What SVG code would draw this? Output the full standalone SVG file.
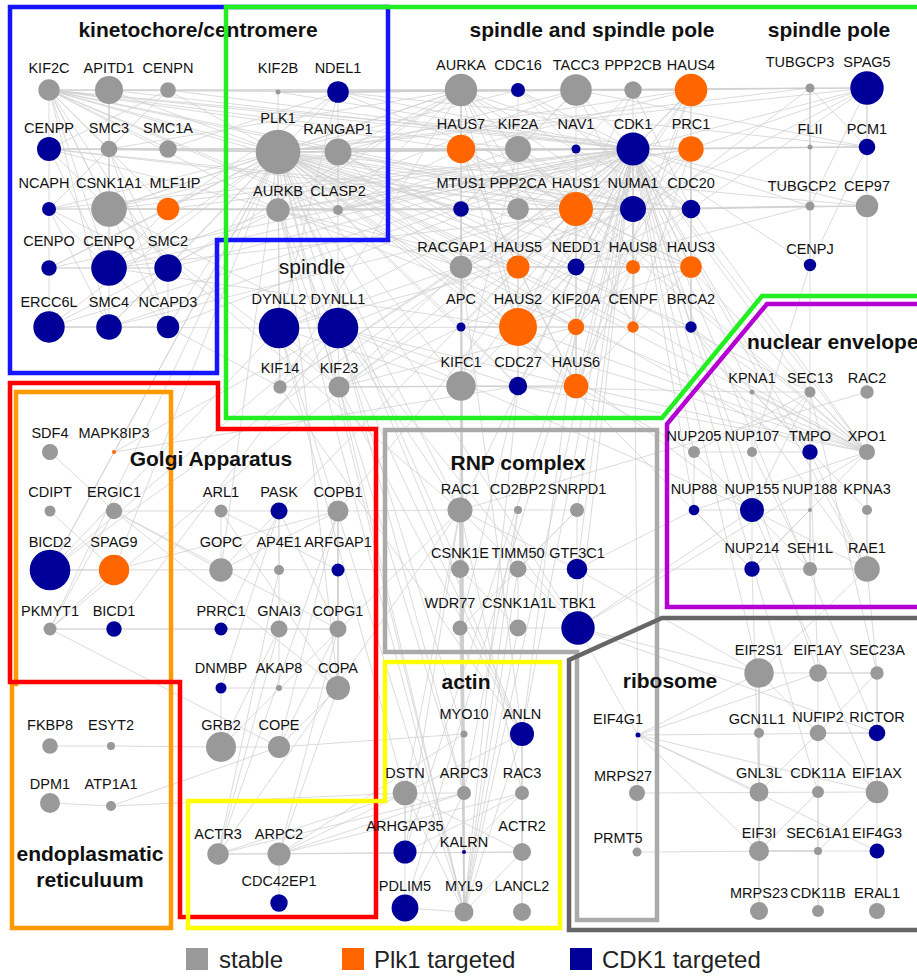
<svg xmlns="http://www.w3.org/2000/svg" width="917" height="978" viewBox="0 0 917 978">
<style>
.e path{stroke:#cfcfcf;stroke-width:0.75;fill:none}
.g{fill:#999999}.o{fill:#ff6600}.b{fill:#000099}
text{font-family:"Liberation Sans",Arial,sans-serif;fill:#111}
.n text{font-size:14.5px;text-anchor:middle}
.ti{font-size:21px;font-weight:bold;text-anchor:middle}
.bx{fill:none;stroke-width:4.5;stroke-linejoin:miter}
.lg{font-size:24px;fill:#222}
</style>
<rect width="917" height="978" fill="#fff"/>
<g class="e" id="connectors">
<path d="M49 90L109 90"/><path d="M109 90L168 90"/><path d="M49 90L109 149"/><path d="M49 90L168 149"/><path d="M49 90L109 209"/><path d="M49 90L168 209"/><path d="M49 90L278 152"/><path d="M49 90L338 92"/><path d="M49 90L338 152"/><path d="M49 90L278 210"/><path d="M49 90L338 210"/><path d="M49 90L461 90"/><path d="M49 90L461 149"/><path d="M49 90L518 149"/><path d="M49 90L633 149"/><path d="M49 90L461 209"/><path d="M49 90L633 209"/><path d="M49 90L49 149"/><path d="M49 90L168 268"/><path d="M49 90L168 327"/><path d="M49 90L691 149"/><path d="M49 90L461 267"/><path d="M49 90L109 268"/><path d="M49 90L109 327"/>
<path d="M49 149L109 149"/><path d="M49 149L168 149"/><path d="M49 149L278 152"/><path d="M49 149L633 149"/><path d="M49 149L278 210"/><path d="M49 149L633 209"/><path d="M49 149L576 209"/><path d="M49 149L109 209"/><path d="M49 149L109 268"/><path d="M49 149L49 209"/>
<path d="M109 149L168 149"/><path d="M109 149L278 152"/><path d="M109 149L633 149"/><path d="M109 149L168 268"/><path d="M109 149L109 327"/><path d="M109 149L168 327"/><path d="M109 149L461 90"/><path d="M109 149L338 152"/>
<path d="M168 149L278 152"/><path d="M168 149L633 149"/><path d="M168 149L338 92"/><path d="M168 149L461 149"/>
<path d="M49 209L109 209"/><path d="M49 209L168 268"/><path d="M49 209L109 327"/><path d="M49 209L168 327"/><path d="M49 209L633 149"/><path d="M49 209L278 152"/><path d="M49 209L278 210"/><path d="M49 209L49 268"/>
<path d="M109 209L278 152"/><path d="M109 209L633 149"/><path d="M109 209L338 152"/><path d="M109 209L461 90"/><path d="M109 209L461 209"/><path d="M109 209L691 209"/><path d="M109 209L339 387"/><path d="M109 209L338 328"/><path d="M109 209L576 209"/><path d="M109 209L460 510"/>
<path d="M168 209L278 152"/><path d="M168 209L109 268"/><path d="M168 209L49 268"/><path d="M168 209L278 210"/><path d="M168 209L338 92"/><path d="M168 209L633 149"/>
<path d="M49 268L109 268"/><path d="M49 268L168 268"/><path d="M49 268L278 152"/><path d="M49 268L633 149"/><path d="M49 268L49 327"/>
<path d="M109 268L278 152"/><path d="M109 268L278 210"/><path d="M109 268L168 268"/><path d="M109 268L633 149"/><path d="M109 268L518 327"/><path d="M109 268L633 209"/>
<path d="M168 268L109 327"/><path d="M168 268L168 327"/><path d="M168 268L278 152"/><path d="M168 268L633 149"/><path d="M168 268L461 90"/>
<path d="M49 327L109 327"/><path d="M49 327L278 152"/><path d="M49 327L633 149"/><path d="M49 327L278 210"/><path d="M49 327L168 327"/><path d="M49 327L279 328"/>
<path d="M109 327L168 327"/><path d="M109 327L633 149"/><path d="M109 327L278 152"/><path d="M109 327L576 209"/>
<path d="M168 327L278 152"/><path d="M168 327L633 149"/><path d="M168 327L280 387"/>
<path d="M109 90L278 152"/><path d="M109 90L633 149"/><path d="M109 90L109 149"/><path d="M109 90L109 209"/><path d="M109 90L109 268"/><path d="M109 90L576 90"/>
<path d="M168 90L278 152"/><path d="M168 90L633 149"/><path d="M168 90L49 149"/><path d="M168 90L49 209"/><path d="M168 90L691 90"/>
<path d="M278 92L338 92"/><path d="M278 92L278 152"/><path d="M278 92L461 90"/><path d="M278 92L633 149"/><path d="M278 92L576 90"/>
<path d="M338 92L461 90"/><path d="M338 92L518 90"/><path d="M338 92L576 90"/><path d="M338 92L633 90"/><path d="M338 92L633 149"/><path d="M338 92L278 152"/><path d="M338 92L633 209"/><path d="M338 92L338 328"/><path d="M338 92L279 328"/><path d="M338 92L691 90"/><path d="M338 92L867 88"/><path d="M338 92L867 147"/>
<path d="M278 152L338 152"/><path d="M278 152L278 210"/><path d="M278 152L461 90"/><path d="M278 152L691 90"/><path d="M278 152L461 149"/><path d="M278 152L518 149"/><path d="M278 152L576 149"/><path d="M278 152L633 149"/><path d="M278 152L691 149"/><path d="M278 152L461 209"/><path d="M278 152L518 209"/><path d="M278 152L576 209"/><path d="M278 152L633 209"/><path d="M278 152L691 209"/><path d="M278 152L461 267"/><path d="M278 152L518 267"/><path d="M278 152L576 267"/><path d="M278 152L633 267"/><path d="M278 152L691 267"/><path d="M278 152L518 327"/><path d="M278 152L576 327"/><path d="M278 152L633 327"/><path d="M278 152L461 327"/><path d="M278 152L691 327"/><path d="M278 152L461 386"/><path d="M278 152L518 386"/><path d="M278 152L576 386"/><path d="M278 152L339 387"/><path d="M278 152L280 387"/><path d="M278 152L338 328"/><path d="M278 152L279 328"/><path d="M278 152L810 88"/><path d="M278 152L867 88"/><path d="M278 152L867 147"/><path d="M278 152L867 206"/><path d="M278 152L114 452"/><path d="M278 152L114 570"/><path d="M278 152L50 570"/><path d="M278 152L50 629"/><path d="M278 152L338 688"/><path d="M278 152L221 570"/><path d="M278 152L460 510"/><path d="M278 152L578 628"/><path d="M278 152L752 510"/><path d="M278 152L460 569"/><path d="M278 152L522 734"/><path d="M278 152L464 912"/><path d="M278 152L810 452"/><path d="M278 152L867 452"/><path d="M278 152L518 90"/>
<path d="M338 152L461 90"/><path d="M338 152L633 149"/><path d="M338 152L338 210"/><path d="M338 152L633 209"/><path d="M338 152L867 452"/><path d="M338 152L752 569"/><path d="M338 152L810 392"/><path d="M338 152L576 209"/><path d="M338 152L576 90"/>
<path d="M278 210L338 210"/><path d="M278 210L461 90"/><path d="M278 210L633 149"/><path d="M278 210L691 149"/><path d="M278 210L339 387"/><path d="M278 210L576 327"/><path d="M278 210L461 267"/><path d="M278 210L518 267"/><path d="M278 210L633 209"/><path d="M278 210L691 209"/><path d="M278 210L522 734"/><path d="M278 210L464 912"/><path d="M278 210L576 90"/>
<path d="M338 210L461 90"/><path d="M338 210L633 149"/><path d="M338 210L691 149"/><path d="M338 210L461 149"/><path d="M338 210L518 149"/><path d="M338 210L461 209"/>
<path d="M279 328L338 328"/><path d="M279 328L280 387"/><path d="M279 328L339 387"/><path d="M279 328L633 209"/><path d="M279 328L50 570"/><path d="M279 328L518 327"/><path d="M279 328L633 149"/><path d="M279 328L461 386"/><path d="M279 328L518 267"/><path d="M279 328L405 793"/><path d="M279 328L464 912"/>
<path d="M338 328L339 387"/><path d="M338 328L633 209"/><path d="M338 328L50 570"/><path d="M338 328L114 629"/><path d="M338 328L518 386"/><path d="M338 328L576 386"/><path d="M338 328L578 628"/><path d="M338 328L752 510"/><path d="M338 328L460 510"/><path d="M338 328L464 734"/><path d="M338 328L464 793"/>
<path d="M280 387L339 387"/><path d="M280 387L461 267"/><path d="M280 387L522 734"/><path d="M280 387L633 149"/><path d="M280 387L461 90"/>
<path d="M339 387L461 267"/><path d="M339 387L691 149"/><path d="M339 387L576 327"/><path d="M339 387L522 734"/><path d="M339 387L464 912"/><path d="M339 387L464 793"/><path d="M339 387L518 386"/><path d="M339 387L576 386"/><path d="M339 387L461 327"/><path d="M339 387L461 386"/>
<path d="M461 90L576 90"/><path d="M461 90L461 149"/><path d="M461 90L518 149"/><path d="M461 90L633 149"/><path d="M461 90L633 209"/><path d="M461 90L576 209"/><path d="M461 90L461 267"/><path d="M461 90L461 386"/><path d="M461 90L518 209"/><path d="M461 90L518 327"/><path d="M461 90L691 209"/><path d="M461 90L576 267"/><path d="M461 90L810 88"/><path d="M461 90L691 90"/>
<path d="M518 90L691 209"/><path d="M518 90L518 386"/><path d="M518 90L633 149"/><path d="M518 90L633 209"/>
<path d="M576 90L633 149"/><path d="M576 90L576 209"/><path d="M576 90L518 149"/><path d="M576 90L867 88"/><path d="M576 90L867 147"/><path d="M576 90L633 209"/><path d="M576 90L461 209"/>
<path d="M633 90L518 209"/><path d="M633 90L633 149"/><path d="M633 90L576 209"/><path d="M633 90L691 209"/>
<path d="M691 90L461 149"/><path d="M691 90L576 209"/><path d="M691 90L518 267"/><path d="M691 90L633 267"/><path d="M691 90L691 267"/><path d="M691 90L518 327"/><path d="M691 90L576 386"/><path d="M691 90L576 267"/><path d="M691 90L810 88"/><path d="M691 90L633 149"/><path d="M691 90L691 149"/>
<path d="M461 149L576 209"/><path d="M461 149L518 327"/><path d="M461 149L518 267"/><path d="M461 149L576 386"/><path d="M461 149L691 267"/><path d="M461 149L633 267"/><path d="M461 149L576 267"/>
<path d="M518 149L633 149"/><path d="M518 149L633 209"/><path d="M518 149L576 209"/><path d="M518 149L461 209"/><path d="M518 149L461 386"/><path d="M518 149L867 452"/>
<path d="M576 149L633 149"/><path d="M576 149L576 209"/>
<path d="M633 149L691 149"/><path d="M633 149L633 209"/><path d="M633 149L691 209"/><path d="M633 149L576 209"/><path d="M633 149L461 267"/><path d="M633 149L518 267"/><path d="M633 149L576 267"/><path d="M633 149L633 267"/><path d="M633 149L691 267"/><path d="M633 149L461 327"/><path d="M633 149L518 327"/><path d="M633 149L576 327"/><path d="M633 149L633 327"/><path d="M633 149L691 327"/><path d="M633 149L461 386"/><path d="M633 149L518 386"/><path d="M633 149L576 386"/><path d="M633 149L867 88"/><path d="M633 149L867 147"/><path d="M633 149L867 206"/><path d="M633 149L810 265"/><path d="M633 149L810 206"/><path d="M633 149L810 147"/><path d="M633 149L810 452"/><path d="M633 149L752 510"/><path d="M633 149L694 510"/><path d="M633 149L867 452"/><path d="M633 149L867 569"/><path d="M633 149L752 392"/><path d="M633 149L810 392"/><path d="M633 149L694 452"/><path d="M633 149L577 569"/><path d="M633 149L578 628"/><path d="M633 149L460 510"/><path d="M633 149L577 510"/><path d="M633 149L464 912"/><path d="M633 149L522 734"/><path d="M633 149L405 908"/><path d="M633 149L405 852"/><path d="M633 149L338 511"/><path d="M633 149L759 673"/><path d="M633 149L818 673"/><path d="M633 149L877 733"/><path d="M633 149L638 735"/><path d="M633 149L818 792"/>
<path d="M691 149L633 209"/><path d="M691 149L691 209"/><path d="M691 149L576 327"/><path d="M691 149L461 267"/><path d="M691 149L691 267"/><path d="M691 149L633 327"/><path d="M691 149L867 88"/><path d="M691 149L691 327"/><path d="M691 149L867 147"/>
<path d="M461 209L576 209"/><path d="M461 209L518 209"/><path d="M461 209L461 267"/>
<path d="M518 209L576 209"/><path d="M518 209L633 209"/><path d="M518 209L518 267"/>
<path d="M576 209L633 209"/><path d="M576 209L518 267"/><path d="M576 209L518 327"/><path d="M576 209L633 267"/><path d="M576 209L691 267"/><path d="M576 209L576 267"/><path d="M576 209L576 386"/><path d="M576 209L576 327"/><path d="M576 209L633 327"/>
<path d="M633 209L691 209"/><path d="M633 209L867 88"/><path d="M633 209L867 206"/><path d="M633 209L633 267"/><path d="M633 209L633 327"/><path d="M633 209L461 386"/><path d="M633 209L810 206"/>
<path d="M691 209L518 386"/><path d="M691 209L691 327"/><path d="M691 209L867 88"/><path d="M691 209L867 206"/><path d="M691 209L810 206"/><path d="M691 209L461 327"/>
<path d="M461 267L518 267"/><path d="M461 267L576 327"/><path d="M461 267L461 327"/><path d="M461 267L522 734"/><path d="M461 267L464 912"/>
<path d="M518 267L576 267"/><path d="M518 267L518 327"/><path d="M518 267L576 386"/><path d="M518 267L633 267"/><path d="M518 267L691 267"/>
<path d="M576 267L633 267"/><path d="M576 267L518 327"/><path d="M576 267L691 267"/><path d="M576 267L810 88"/><path d="M576 267L810 206"/><path d="M576 267L576 386"/>
<path d="M633 267L691 267"/><path d="M633 267L518 327"/><path d="M633 267L633 327"/><path d="M633 267L576 386"/>
<path d="M691 267L518 327"/><path d="M691 267L576 386"/><path d="M691 267L691 327"/>
<path d="M461 327L518 327"/><path d="M461 327L461 386"/><path d="M461 327L518 386"/><path d="M461 327L691 327"/>
<path d="M518 327L576 386"/><path d="M518 327L576 327"/><path d="M518 327L518 386"/>
<path d="M576 327L633 327"/><path d="M576 327L576 386"/><path d="M576 327L522 734"/>
<path d="M633 327L691 327"/><path d="M691 327L867 452"/><path d="M691 327L867 569"/>
<path d="M461 386L518 386"/><path d="M461 386L460 510"/><path d="M518 386L576 386"/><path d="M518 386L460 628"/>
<path d="M810 88L867 88"/><path d="M810 88L810 147"/><path d="M810 88L810 206"/><path d="M810 88L810 265"/><path d="M810 88L867 147"/><path d="M867 88L867 147"/><path d="M867 88L867 206"/><path d="M867 88L810 206"/><path d="M810 147L810 206"/><path d="M810 147L867 147"/><path d="M810 206L867 206"/><path d="M810 206L810 265"/><path d="M810 265L867 147"/><path d="M810 265L752 452"/><path d="M867 206L867 392"/><path d="M810 265L810 392"/>
<path d="M867 452L518 327"/><path d="M867 452L576 327"/><path d="M867 452L518 386"/><path d="M867 452L576 386"/><path d="M867 452L461 327"/><path d="M867 452L576 209"/><path d="M867 452L633 209"/><path d="M867 452L691 209"/><path d="M694 452L576 386"/><path d="M752 392L461 386"/>
<path d="M752 392L810 392"/><path d="M752 392L752 452"/><path d="M810 392L752 452"/><path d="M810 392L752 510"/><path d="M810 392L810 569"/><path d="M810 392L694 452"/><path d="M810 392L867 452"/><path d="M867 392L867 452"/><path d="M752 392L867 452"/><path d="M694 452L752 452"/><path d="M694 452L752 510"/><path d="M694 452L694 510"/><path d="M752 452L752 510"/><path d="M752 452L810 569"/><path d="M752 452L810 452"/><path d="M810 452L810 510"/><path d="M810 452L867 569"/><path d="M867 452L867 510"/><path d="M867 452L867 569"/><path d="M867 452L752 569"/><path d="M867 452L694 510"/><path d="M694 510L752 510"/><path d="M694 510L752 569"/><path d="M752 510L810 510"/><path d="M752 510L752 569"/><path d="M752 510L810 569"/><path d="M752 510L867 569"/><path d="M810 510L810 569"/><path d="M810 510L752 569"/><path d="M867 510L867 569"/><path d="M867 510L752 392"/><path d="M752 569L810 569"/><path d="M752 569L867 569"/><path d="M810 569L867 569"/><path d="M867 392L460 510"/><path d="M810 452L691 327"/>
<path d="M460 510L518 510"/><path d="M460 510L460 569"/><path d="M460 510L578 628"/><path d="M460 510L577 569"/><path d="M460 510L460 628"/><path d="M518 510L577 510"/><path d="M577 510L460 628"/><path d="M577 510L577 569"/><path d="M577 510L518 569"/><path d="M460 569L518 628"/><path d="M460 569L518 569"/><path d="M518 569L518 628"/><path d="M577 569L578 628"/><path d="M460 628L518 628"/><path d="M518 628L578 628"/><path d="M578 628L759 673"/><path d="M578 628L877 733"/><path d="M577 569L694 510"/><path d="M460 510L464 793"/><path d="M460 510L522 793"/><path d="M460 510L464 734"/><path d="M460 510L405 793"/><path d="M460 510L221 747"/><path d="M460 510L338 511"/><path d="M460 510L464 852"/><path d="M460 510L405 852"/><path d="M578 628L752 510"/><path d="M578 628L867 452"/>
<path d="M114 511L221 511"/><path d="M221 511L279 511"/><path d="M279 511L338 511"/><path d="M114 452L50 570"/><path d="M114 452L518 386"/><path d="M114 452L338 328"/><path d="M50 629L114 570"/><path d="M50 629L114 511"/><path d="M50 629L633 149"/><path d="M50 629L338 629"/><path d="M50 629L279 629"/><path d="M50 629L279 747"/><path d="M50 570L114 570"/><path d="M50 570L633 149"/><path d="M50 570L752 569"/><path d="M114 570L338 511"/><path d="M114 511L338 629"/><path d="M114 511L338 688"/><path d="M114 511L221 570"/><path d="M50 452L114 511"/><path d="M50 511L114 570"/>
<path d="M221 511L221 570"/><path d="M279 511L221 570"/><path d="M279 511L279 570"/><path d="M279 511L221 629"/><path d="M279 511L279 629"/><path d="M279 511L338 629"/><path d="M279 511L221 688"/><path d="M279 511L633 149"/><path d="M338 511L338 629"/><path d="M338 511L338 688"/><path d="M338 511L279 747"/><path d="M338 511L338 570"/><path d="M338 511L221 570"/><path d="M338 570L338 629"/><path d="M338 570L338 688"/><path d="M338 570L221 511"/><path d="M338 629L338 688"/><path d="M338 629L279 747"/><path d="M338 629L279 629"/><path d="M338 688L279 747"/><path d="M338 688L221 511"/><path d="M338 688L221 688"/><path d="M279 629L221 747"/><path d="M279 629L279 688"/><path d="M221 747L279 747"/><path d="M221 747L221 688"/><path d="M111 746L221 747"/><path d="M50 746L111 746"/><path d="M50 803L111 806"/><path d="M111 806L405 793"/><path d="M111 806L279 747"/><path d="M279 747L464 734"/>
<path d="M218 854L279 854"/><path d="M279 854L522 852"/><path d="M218 854L464 793"/><path d="M218 854L522 852"/><path d="M218 854L405 793"/><path d="M218 854L460 510"/><path d="M218 854L279 570"/><path d="M218 854L338 511"/><path d="M218 854L279 629"/><path d="M279 854L464 793"/><path d="M279 854L405 793"/><path d="M279 854L522 793"/><path d="M279 854L464 734"/><path d="M279 854L338 688"/><path d="M279 854L338 629"/><path d="M279 854L279 903"/>
<path d="M464 734L464 912"/><path d="M464 734L464 793"/><path d="M464 793L464 852"/><path d="M464 793L464 912"/><path d="M522 734L522 793"/><path d="M522 734L464 912"/><path d="M522 734L522 852"/><path d="M522 734L405 793"/><path d="M405 793L464 793"/><path d="M405 793L405 852"/><path d="M405 793L464 912"/><path d="M405 793L522 852"/><path d="M522 793L522 852"/><path d="M522 793L405 852"/><path d="M522 793L464 852"/><path d="M522 852L522 912"/><path d="M522 852L464 912"/><path d="M405 908L464 912"/><path d="M405 908L464 793"/><path d="M405 908L405 793"/><path d="M522 912L522 734"/><path d="M464 912L460 510"/><path d="M464 912L460 569"/><path d="M464 912L518 569"/><path d="M464 912L460 628"/><path d="M464 912L518 628"/><path d="M464 912L461 386"/><path d="M464 912L518 386"/><path d="M464 912L461 327"/><path d="M464 912L518 510"/><path d="M464 793L460 628"/><path d="M464 793L518 510"/><path d="M464 793L461 386"/><path d="M464 793L461 90"/><path d="M464 793L460 569"/><path d="M464 734L461 386"/><path d="M464 734L461 209"/>
<path d="M638 735L877 733"/><path d="M638 735L637 793"/><path d="M637 793L637 852"/><path d="M638 735L759 673"/><path d="M638 735L759 851"/><path d="M638 735L877 851"/><path d="M638 735L877 792"/><path d="M638 735L759 792"/><path d="M638 735L818 673"/><path d="M638 735L578 628"/><path d="M637 852L818 851"/><path d="M637 793L877 792"/>
<path d="M759 673L877 673"/><path d="M759 673L759 733"/><path d="M759 673L759 792"/><path d="M759 673L818 733"/><path d="M759 673L759 851"/><path d="M818 673L818 792"/><path d="M818 673L877 673"/><path d="M877 673L877 733"/><path d="M877 673L818 733"/><path d="M877 673L877 792"/><path d="M818 733L877 733"/><path d="M818 733L759 792"/><path d="M818 733L877 792"/><path d="M877 733L877 792"/><path d="M759 733L759 792"/><path d="M759 792L759 851"/><path d="M759 792L759 911"/><path d="M818 792L818 851"/><path d="M818 792L818 911"/><path d="M818 792L759 851"/><path d="M877 792L877 851"/><path d="M877 792L818 851"/><path d="M759 851L818 851"/><path d="M759 851L877 851"/><path d="M759 851L759 911"/><path d="M818 851L818 911"/><path d="M877 851L877 911"/><path d="M877 673L867 569"/><path d="M759 673L867 569"/><path d="M877 673L810 392"/><path d="M818 673L810 452"/><path d="M759 673L577 569"/><path d="M759 792L752 569"/><path d="M877 792L752 510"/>
</g>
<text class="ti" x="198" y="37">kinetochore/centromere</text>
<g id="boxes">
<polygon class="bx" stroke="#1414ff" points="10,7 388,7 388,240 217,240 217,373 10,373"/>
<polygon class="bx" stroke="#22ee22" points="226,7 930,7 930,296 762,296 662,418 226,418"/>
<polygon class="bx" stroke="#b400d2" points="930,304 767,304 667,424 667,607 930,607"/>
<polygon class="bx" stroke="#ff9a00" points="16,392 171,392 171,928 12,928 12,684 16,684"/>
<polygon class="bx" stroke="#ff0000" points="10,383 218,383 218,429 376,429 376,917 180,917 180,682 10,682"/>
<polygon class="bx" stroke="#aaaaaa" points="385,430 657,430 657,920 577,920 577,652 385,652"/>
<polygon class="bx" stroke="#ffff00" points="385,662 560,662 560,928 188,928 188,801 385,801"/>
<polygon class="bx" stroke="#666666" points="569,930 569,660 662,618 930,618 930,930"/>
</g>
<g id="titles">
<text class="ti" x="592" y="37">spindle and spindle pole</text>
<text class="ti" x="829" y="37">spindle pole</text>
<text x="312" y="274" style="font-size:21px;text-anchor:middle">spindle</text>
<text class="ti" x="211" y="466">Golgi Apparatus</text>
<text class="ti" x="747" y="349" style="text-anchor:start">nuclear envelope</text>
<text class="ti" x="518" y="470">RNP complex</text>
<text class="ti" x="466" y="689">actin</text>
<text class="ti" x="670" y="688">ribosome</text>
<text class="ti" x="90" y="861">endoplasmatic</text>
<text class="ti" x="90" y="887">reticuluum</text>
</g>
<g class="n" id="nodes">
<g id="KIF2C"><circle class="g" cx="49" cy="90" r="10.7"/><text x="49" y="73">KIF2C</text></g>
<g id="APITD1"><circle class="g" cx="109" cy="90" r="14"/><text x="109" y="73">APITD1</text></g>
<g id="CENPN"><circle class="g" cx="168" cy="90" r="7.8"/><text x="168" y="73">CENPN</text></g>
<g id="CENPP"><circle class="b" cx="49" cy="149" r="12"/><text x="49" y="133">CENPP</text></g>
<g id="SMC3"><circle class="g" cx="109" cy="149" r="8.3"/><text x="109" y="133">SMC3</text></g>
<g id="SMC1A"><circle class="g" cx="168" cy="149" r="8.7"/><text x="168" y="133">SMC1A</text></g>
<g id="NCAPH"><circle class="b" cx="49" cy="209" r="7"/><text x="44" y="188">NCAPH</text></g>
<g id="CSNK1A1"><circle class="g" cx="109" cy="209" r="17.8"/><text x="109" y="188">CSNK1A1</text></g>
<g id="MLF1IP"><circle class="o" cx="168" cy="209" r="11.3"/><text x="175" y="188">MLF1IP</text></g>
<g id="CENPO"><circle class="b" cx="49" cy="268" r="7.7"/><text x="49" y="246">CENPO</text></g>
<g id="CENPQ"><circle class="b" cx="109" cy="268" r="17.8"/><text x="109" y="246">CENPQ</text></g>
<g id="SMC2"><circle class="b" cx="168" cy="268" r="13.7"/><text x="168" y="246">SMC2</text></g>
<g id="ERCC6L"><circle class="b" cx="49" cy="327" r="15.7"/><text x="49" y="307">ERCC6L</text></g>
<g id="SMC4"><circle class="b" cx="109" cy="327" r="12.8"/><text x="109" y="307">SMC4</text></g>
<g id="NCAPD3"><circle class="b" cx="168" cy="327" r="11.2"/><text x="168" y="307">NCAPD3</text></g>
<g id="KIF2B"><circle class="g" cx="278" cy="92" r="2.5"/><text x="278" y="73">KIF2B</text></g>
<g id="NDEL1"><circle class="b" cx="338" cy="92" r="10.8"/><text x="338" y="73">NDEL1</text></g>
<g id="PLK1"><circle class="g" cx="278" cy="152" r="22.3"/><text x="278" y="123">PLK1</text></g>
<g id="RANGAP1"><circle class="g" cx="338" cy="152" r="13.5"/><text x="338" y="134">RANGAP1</text></g>
<g id="AURKB"><circle class="g" cx="278" cy="210" r="11.7"/><text x="278" y="196">AURKB</text></g>
<g id="CLASP2"><circle class="g" cx="338" cy="210" r="5"/><text x="338" y="196">CLASP2</text></g>
<g id="DYNLL2"><circle class="b" cx="279" cy="328" r="20.3"/><text x="279" y="304">DYNLL2</text></g>
<g id="DYNLL1"><circle class="b" cx="338" cy="328" r="20.3"/><text x="338" y="304">DYNLL1</text></g>
<g id="KIF14"><circle class="g" cx="280" cy="387" r="6.7"/><text x="280" y="373">KIF14</text></g>
<g id="KIF23"><circle class="g" cx="339" cy="387" r="10.5"/><text x="339" y="373">KIF23</text></g>
<g id="AURKA"><circle class="g" cx="461" cy="90" r="16.2"/><text x="461" y="70">AURKA</text></g>
<g id="CDC16"><circle class="b" cx="518" cy="90" r="7"/><text x="518" y="70">CDC16</text></g>
<g id="TACC3"><circle class="g" cx="576" cy="90" r="15.8"/><text x="576" y="70">TACC3</text></g>
<g id="PPP2CB"><circle class="g" cx="633" cy="90" r="8.7"/><text x="633" y="70">PPP2CB</text></g>
<g id="HAUS4"><circle class="o" cx="691" cy="90" r="16.3"/><text x="691" y="70">HAUS4</text></g>
<g id="HAUS7"><circle class="o" cx="461" cy="149" r="14.2"/><text x="461" y="129">HAUS7</text></g>
<g id="KIF2A"><circle class="g" cx="518" cy="149" r="13"/><text x="518" y="129">KIF2A</text></g>
<g id="NAV1"><circle class="b" cx="576" cy="149" r="4.5"/><text x="576" y="129">NAV1</text></g>
<g id="CDK1"><circle class="b" cx="633" cy="149" r="16.5"/><text x="633" y="129">CDK1</text></g>
<g id="PRC1"><circle class="o" cx="691" cy="149" r="12.7"/><text x="691" y="129">PRC1</text></g>
<g id="MTUS1"><circle class="b" cx="461" cy="209" r="7.8"/><text x="461" y="188">MTUS1</text></g>
<g id="PPP2CA"><circle class="g" cx="518" cy="209" r="10.8"/><text x="518" y="188">PPP2CA</text></g>
<g id="HAUS1"><circle class="o" cx="576" cy="209" r="17"/><text x="576" y="188">HAUS1</text></g>
<g id="NUMA1"><circle class="b" cx="633" cy="209" r="13"/><text x="633" y="188">NUMA1</text></g>
<g id="CDC20"><circle class="b" cx="691" cy="209" r="9.3"/><text x="691" y="188">CDC20</text></g>
<g id="RACGAP1"><circle class="g" cx="461" cy="267" r="11.2"/><text x="452" y="252">RACGAP1</text></g>
<g id="HAUS5"><circle class="o" cx="518" cy="267" r="11.5"/><text x="518" y="252">HAUS5</text></g>
<g id="NEDD1"><circle class="b" cx="576" cy="267" r="8.5"/><text x="576" y="252">NEDD1</text></g>
<g id="HAUS8"><circle class="o" cx="633" cy="267" r="7"/><text x="633" y="252">HAUS8</text></g>
<g id="HAUS3"><circle class="o" cx="691" cy="267" r="10.8"/><text x="691" y="252">HAUS3</text></g>
<g id="APC"><circle class="b" cx="461" cy="327" r="4.5"/><text x="461" y="304">APC</text></g>
<g id="HAUS2"><circle class="o" cx="518" cy="327" r="19"/><text x="518" y="304">HAUS2</text></g>
<g id="KIF20A"><circle class="o" cx="576" cy="327" r="8.2"/><text x="576" y="304">KIF20A</text></g>
<g id="CENPF"><circle class="o" cx="633" cy="327" r="5.7"/><text x="633" y="304">CENPF</text></g>
<g id="BRCA2"><circle class="b" cx="691" cy="327" r="5.7"/><text x="691" y="304">BRCA2</text></g>
<g id="KIFC1"><circle class="g" cx="461" cy="386" r="14.7"/><text x="461" y="367">KIFC1</text></g>
<g id="CDC27"><circle class="b" cx="518" cy="386" r="9.2"/><text x="518" y="367">CDC27</text></g>
<g id="HAUS6"><circle class="o" cx="576" cy="386" r="12.3"/><text x="576" y="367">HAUS6</text></g>
<g id="TUBGCP3"><circle class="g" cx="810" cy="88" r="4.5"/><text x="800" y="67">TUBGCP3</text></g>
<g id="SPAG5"><circle class="b" cx="867" cy="88" r="16.7"/><text x="867" y="67">SPAG5</text></g>
<g id="FLII"><circle class="g" cx="810" cy="147" r="2.5"/><text x="810" y="134">FLII</text></g>
<g id="PCM1"><circle class="b" cx="867" cy="147" r="8.3"/><text x="867" y="134">PCM1</text></g>
<g id="TUBGCP2"><circle class="g" cx="810" cy="206" r="4.5"/><text x="802" y="191">TUBGCP2</text></g>
<g id="CEP97"><circle class="g" cx="867" cy="206" r="11.2"/><text x="867" y="191">CEP97</text></g>
<g id="CENPJ"><circle class="b" cx="810" cy="265" r="6.2"/><text x="810" y="254">CENPJ</text></g>
<g id="KPNA1"><circle class="g" cx="752" cy="392" r="2.5"/><text x="752" y="383">KPNA1</text></g>
<g id="SEC13"><circle class="g" cx="810" cy="392" r="5.5"/><text x="810" y="383">SEC13</text></g>
<g id="RAC2"><circle class="g" cx="867" cy="392" r="6.7"/><text x="867" y="383">RAC2</text></g>
<g id="NUP205"><circle class="g" cx="694" cy="452" r="6"/><text x="694" y="441">NUP205</text></g>
<g id="NUP107"><circle class="g" cx="752" cy="452" r="5"/><text x="752" y="441">NUP107</text></g>
<g id="TMPO"><circle class="b" cx="810" cy="452" r="7.7"/><text x="810" y="441">TMPO</text></g>
<g id="XPO1"><circle class="g" cx="867" cy="452" r="8"/><text x="867" y="441">XPO1</text></g>
<g id="NUP88"><circle class="b" cx="694" cy="510" r="5.3"/><text x="694" y="494">NUP88</text></g>
<g id="NUP155"><circle class="b" cx="752" cy="510" r="12"/><text x="752" y="494">NUP155</text></g>
<g id="NUP188"><circle class="g" cx="810" cy="510" r="2"/><text x="810" y="494">NUP188</text></g>
<g id="KPNA3"><circle class="g" cx="867" cy="510" r="5"/><text x="867" y="494">KPNA3</text></g>
<g id="NUP214"><circle class="b" cx="752" cy="569" r="7.7"/><text x="752" y="553">NUP214</text></g>
<g id="SEH1L"><circle class="g" cx="810" cy="569" r="7"/><text x="810" y="553">SEH1L</text></g>
<g id="RAE1"><circle class="g" cx="867" cy="569" r="12.8"/><text x="867" y="553">RAE1</text></g>
<g id="RAC1"><circle class="g" cx="460" cy="510" r="12.5"/><text x="460" y="494">RAC1</text></g>
<g id="CD2BP2"><circle class="g" cx="518" cy="510" r="4"/><text x="518" y="494">CD2BP2</text></g>
<g id="SNRPD1"><circle class="g" cx="577" cy="510" r="7"/><text x="577" y="494">SNRPD1</text></g>
<g id="CSNK1E"><circle class="g" cx="460" cy="569" r="9"/><text x="460" y="558">CSNK1E</text></g>
<g id="TIMM50"><circle class="g" cx="518" cy="569" r="8.5"/><text x="518" y="558">TIMM50</text></g>
<g id="GTF3C1"><circle class="b" cx="577" cy="569" r="10.3"/><text x="577" y="558">GTF3C1</text></g>
<g id="WDR77"><circle class="g" cx="460" cy="628" r="7.5"/><text x="450" y="608">WDR77</text></g>
<g id="CSNK1A1L"><circle class="g" cx="518" cy="628" r="8.5"/><text x="519" y="608">CSNK1A1L</text></g>
<g id="TBK1"><circle class="b" cx="578" cy="628" r="16.7"/><text x="578" y="608">TBK1</text></g>
<g id="SDF4"><circle class="g" cx="50" cy="452" r="8"/><text x="50" y="438">SDF4</text></g>
<g id="MAPK8IP3"><circle class="o" cx="114" cy="452" r="2"/><text x="114" y="438">MAPK8IP3</text></g>
<g id="CDIPT"><circle class="g" cx="50" cy="511" r="5.5"/><text x="50" y="497">CDIPT</text></g>
<g id="ERGIC1"><circle class="g" cx="114" cy="511" r="8.2"/><text x="114" y="497">ERGIC1</text></g>
<g id="BICD2"><circle class="b" cx="50" cy="570" r="20.3"/><text x="50" y="547">BICD2</text></g>
<g id="SPAG9"><circle class="o" cx="114" cy="570" r="15.2"/><text x="114" y="547">SPAG9</text></g>
<g id="PKMYT1"><circle class="g" cx="50" cy="629" r="6.5"/><text x="50" y="616">PKMYT1</text></g>
<g id="BICD1"><circle class="b" cx="114" cy="629" r="7.7"/><text x="114" y="616">BICD1</text></g>
<g id="ARL1"><circle class="g" cx="221" cy="511" r="6.5"/><text x="221" y="497">ARL1</text></g>
<g id="PASK"><circle class="b" cx="279" cy="511" r="8.5"/><text x="279" y="497">PASK</text></g>
<g id="COPB1"><circle class="g" cx="338" cy="511" r="10.5"/><text x="338" y="497">COPB1</text></g>
<g id="GOPC"><circle class="g" cx="221" cy="570" r="11.7"/><text x="221" y="547">GOPC</text></g>
<g id="AP4E1"><circle class="g" cx="279" cy="570" r="5"/><text x="279" y="547">AP4E1</text></g>
<g id="ARFGAP1"><circle class="b" cx="338" cy="570" r="6.5"/><text x="338" y="547">ARFGAP1</text></g>
<g id="PRRC1"><circle class="b" cx="221" cy="629" r="6.5"/><text x="221" y="616">PRRC1</text></g>
<g id="GNAI3"><circle class="g" cx="279" cy="629" r="8.5"/><text x="279" y="616">GNAI3</text></g>
<g id="COPG1"><circle class="g" cx="338" cy="629" r="8.5"/><text x="338" y="616">COPG1</text></g>
<g id="DNMBP"><circle class="b" cx="221" cy="688" r="5.5"/><text x="221" y="673">DNMBP</text></g>
<g id="AKAP8"><circle class="g" cx="279" cy="688" r="3"/><text x="279" y="673">AKAP8</text></g>
<g id="COPA"><circle class="g" cx="338" cy="688" r="12"/><text x="338" y="673">COPA</text></g>
<g id="GRB2"><circle class="g" cx="221" cy="747" r="15"/><text x="221" y="730">GRB2</text></g>
<g id="COPE"><circle class="g" cx="279" cy="747" r="11"/><text x="279" y="730">COPE</text></g>
<g id="FKBP8"><circle class="g" cx="50" cy="746" r="7.8"/><text x="50" y="730">FKBP8</text></g>
<g id="ESYT2"><circle class="g" cx="111" cy="746" r="4"/><text x="111" y="730">ESYT2</text></g>
<g id="DPM1"><circle class="g" cx="50" cy="803" r="10"/><text x="50" y="789">DPM1</text></g>
<g id="ATP1A1"><circle class="g" cx="111" cy="806" r="5"/><text x="111" y="789">ATP1A1</text></g>
<g id="ACTR3"><circle class="g" cx="218" cy="854" r="10.7"/><text x="218" y="839">ACTR3</text></g>
<g id="ARPC2"><circle class="g" cx="279" cy="854" r="11.5"/><text x="279" y="839">ARPC2</text></g>
<g id="CDC42EP1"><circle class="b" cx="279" cy="903" r="8.7"/><text x="279" y="886">CDC42EP1</text></g>
<g id="MYO10"><circle class="g" cx="464" cy="734" r="3.5"/><text x="464" y="719">MYO10</text></g>
<g id="ANLN"><circle class="b" cx="522" cy="734" r="12"/><text x="522" y="719">ANLN</text></g>
<g id="DSTN"><circle class="g" cx="405" cy="793" r="12.3"/><text x="405" y="778">DSTN</text></g>
<g id="ARPC3"><circle class="g" cx="464" cy="793" r="7"/><text x="464" y="778">ARPC3</text></g>
<g id="RAC3"><circle class="g" cx="522" cy="793" r="7"/><text x="522" y="778">RAC3</text></g>
<g id="ARHGAP35"><circle class="b" cx="405" cy="852" r="11.5"/><text x="405" y="831">ARHGAP35</text></g>
<g id="KALRN"><circle class="b" cx="464" cy="852" r="2"/><text x="464" y="847">KALRN</text></g>
<g id="ACTR2"><circle class="g" cx="522" cy="852" r="9"/><text x="522" y="831">ACTR2</text></g>
<g id="PDLIM5"><circle class="b" cx="405" cy="908" r="13.4"/><text x="405" y="891">PDLIM5</text></g>
<g id="MYL9"><circle class="g" cx="464" cy="912" r="9.5"/><text x="464" y="891">MYL9</text></g>
<g id="LANCL2"><circle class="g" cx="522" cy="912" r="9"/><text x="522" y="891">LANCL2</text></g>
<g id="EIF4G1"><circle class="b" cx="638" cy="735" r="2.5"/><text x="618" y="724">EIF4G1</text></g>
<g id="MRPS27"><circle class="g" cx="637" cy="793" r="8"/><text x="623" y="781">MRPS27</text></g>
<g id="PRMT5"><circle class="g" cx="637" cy="852" r="4.5"/><text x="618" y="843">PRMT5</text></g>
<g id="EIF2S1"><circle class="g" cx="759" cy="673" r="14.7"/><text x="759" y="655">EIF2S1</text></g>
<g id="EIF1AY"><circle class="g" cx="818" cy="673" r="8.8"/><text x="818" y="655">EIF1AY</text></g>
<g id="SEC23A"><circle class="g" cx="877" cy="673" r="6.7"/><text x="877" y="655">SEC23A</text></g>
<g id="GCN1L1"><circle class="g" cx="759" cy="733" r="5"/><text x="757" y="724">GCN1L1</text></g>
<g id="NUFIP2"><circle class="g" cx="818" cy="733" r="8.3"/><text x="818" y="722">NUFIP2</text></g>
<g id="RICTOR"><circle class="b" cx="877" cy="733" r="8.3"/><text x="877" y="722">RICTOR</text></g>
<g id="GNL3L"><circle class="g" cx="759" cy="792" r="9.5"/><text x="759" y="778">GNL3L</text></g>
<g id="CDK11A"><circle class="g" cx="818" cy="792" r="6"/><text x="818" y="778">CDK11A</text></g>
<g id="EIF1AX"><circle class="g" cx="877" cy="792" r="11.3"/><text x="877" y="778">EIF1AX</text></g>
<g id="EIF3I"><circle class="g" cx="759" cy="851" r="10"/><text x="759" y="838">EIF3I</text></g>
<g id="SEC61A1"><circle class="g" cx="818" cy="851" r="4"/><text x="818" y="838">SEC61A1</text></g>
<g id="EIF4G3"><circle class="b" cx="877" cy="851" r="7.5"/><text x="877" y="838">EIF4G3</text></g>
<g id="MRPS23"><circle class="g" cx="759" cy="911" r="9"/><text x="759" y="898">MRPS23</text></g>
<g id="CDK11B"><circle class="g" cx="818" cy="911" r="6"/><text x="818" y="898">CDK11B</text></g>
<g id="ERAL1"><circle class="g" cx="877" cy="911" r="8"/><text x="877" y="898">ERAL1</text></g>
</g>
<g id="legend">
<rect x="186" y="948" width="22" height="22" class="g"/><text class="lg" x="219" y="968">stable</text>
<rect x="342" y="948" width="22" height="22" class="o"/><text class="lg" x="374" y="968">Plk1 targeted</text>
<rect x="570" y="948" width="22" height="22" class="b"/><text class="lg" x="602" y="968">CDK1 targeted</text>
</g>
</svg>
